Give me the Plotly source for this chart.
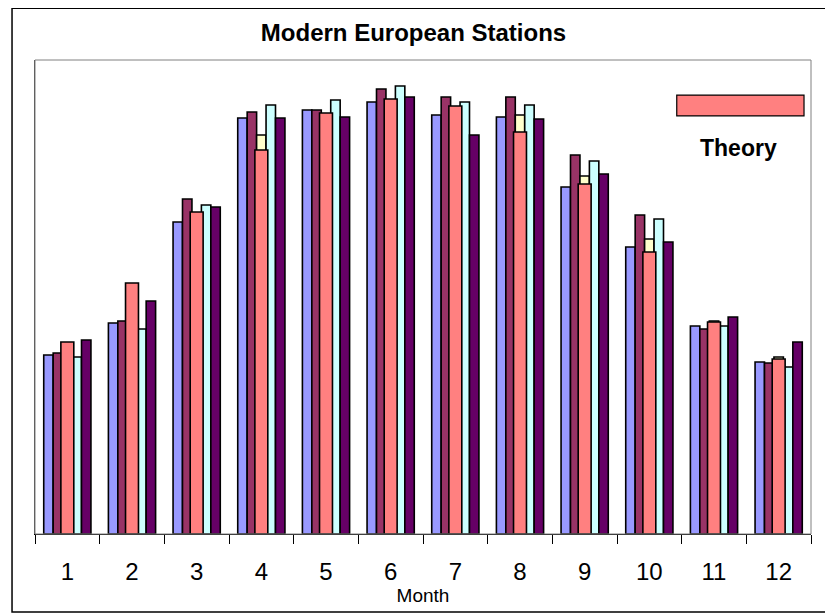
import plotly.graph_objects as go

months = ["1", "2", "3", "4", "5", "6", "7", "8", "9", "10", "11", "12"]

series_a = [179, 211, 312, 416, 424, 432, 419, 417, 347, 287, 208, 172]
series_b = [181, 213, 335, 422, 424, 445, 437, 437, 379, 319, 205, 171]
series_c = [186, 215, 318, 399, 418, 430, 424, 419, 358, 295, 213, 177]
series_d = [177, 205, 329, 429, 434, 448, 432, 429, 373, 315, 208, 167]
series_e = [194, 233, 327, 416, 417, 437, 399, 415, 360, 292, 217, 192]
theory = [192, 251, 322, 384, 421, 435, 428, 402, 350, 282, 212, 175]

colors = ["#9999FF", "#993366", "#FFFFCC", "#CCFFFF", "#660066"]
names = ["Station A", "Station B", "Station C", "Station D", "Station E"]

fig = go.Figure()
for vals, col, nm in zip([series_a, series_b, series_c, series_d, series_e], colors, names):
    fig.add_trace(go.Bar(x=months, y=vals, name=nm, marker=dict(color=col, line=dict(color="black", width=1.6)),
                         xaxis="x", yaxis="y", showlegend=False))

fig.add_trace(go.Bar(x=months, y=theory, name="Theory", width=0.2,
                     marker=dict(color="#FF8080", line=dict(color="black", width=1.6)),
                     xaxis="x2", yaxis="y", showlegend=False))

font_n = "Liberation Sans Narrow, Arial Narrow, Liberation Sans, Arial"

# page body has an 8px margin; compensate so plot area sits at x 35..811, y 60..534
fig.update_layout(
    width=825, height=608,
    margin=dict(l=27, r=22, t=52, b=82),
    paper_bgcolor="white", plot_bgcolor="white",
    barmode="group", bargap=0.27, bargroupgap=0,
    title=dict(text="<b>Modern European Stations</b>", x=(413.5 - 8) / 825, xanchor="center",
               y=1 - (33 - 8) / 608, yanchor="middle",
               font=dict(family=font_n, size=24, color="black")),
    xaxis=dict(type="category", range=[-0.5, 11.5], tickson="boundaries", ticks="outside", ticklen=9,
               tickcolor="black", tickwidth=1, showline=True, linecolor="black", linewidth=1,
               showgrid=False, tickfont=dict(family=font_n, size=24, color="black"),
               ticklabelstandoff=16,
               title=dict(text="Month", font=dict(family=font_n, size=19, color="black"), standoff=2)),
    xaxis2=dict(type="category", range=[-0.5, 11.5], overlaying="x", showticklabels=False, showgrid=False,
                ticks="", showline=False, side="bottom"),
    yaxis=dict(range=[0, 474], showticklabels=False, showgrid=False, ticks="", showline=True,
               linecolor="#404040", linewidth=1, zeroline=False),
    font=dict(family="Liberation Sans, Arial", color="black"),
)

shapes = [
    dict(type="rect", xref="paper", yref="paper", x0=0, x1=1, y0=0, y1=1,
         line=dict(color="#808080", width=1), fillcolor="rgba(0,0,0,0)", layer="above"),
    dict(type="rect", xref="paper", yref="paper", x0=-0.0296, x1=1.023, y0=-0.1646, y1=1.109,
         line=dict(color="black", width=1.5), fillcolor="rgba(0,0,0,0)"),
    dict(type="rect", xref="paper", yref="paper", x0=0.827, x1=0.991, y0=0.882, y1=0.926,
         line=dict(color="black", width=1.2), fillcolor="#FF8080"),
]
fig.update_layout(shapes=shapes)
fig.add_annotation(text="<b>Theory</b>", xref="paper", yref="paper", x=0.906, y=0.814,
                   xanchor="center", yanchor="middle", showarrow=False,
                   font=dict(family=font_n, size=23, color="black"))

fig.write_html("out.html")
